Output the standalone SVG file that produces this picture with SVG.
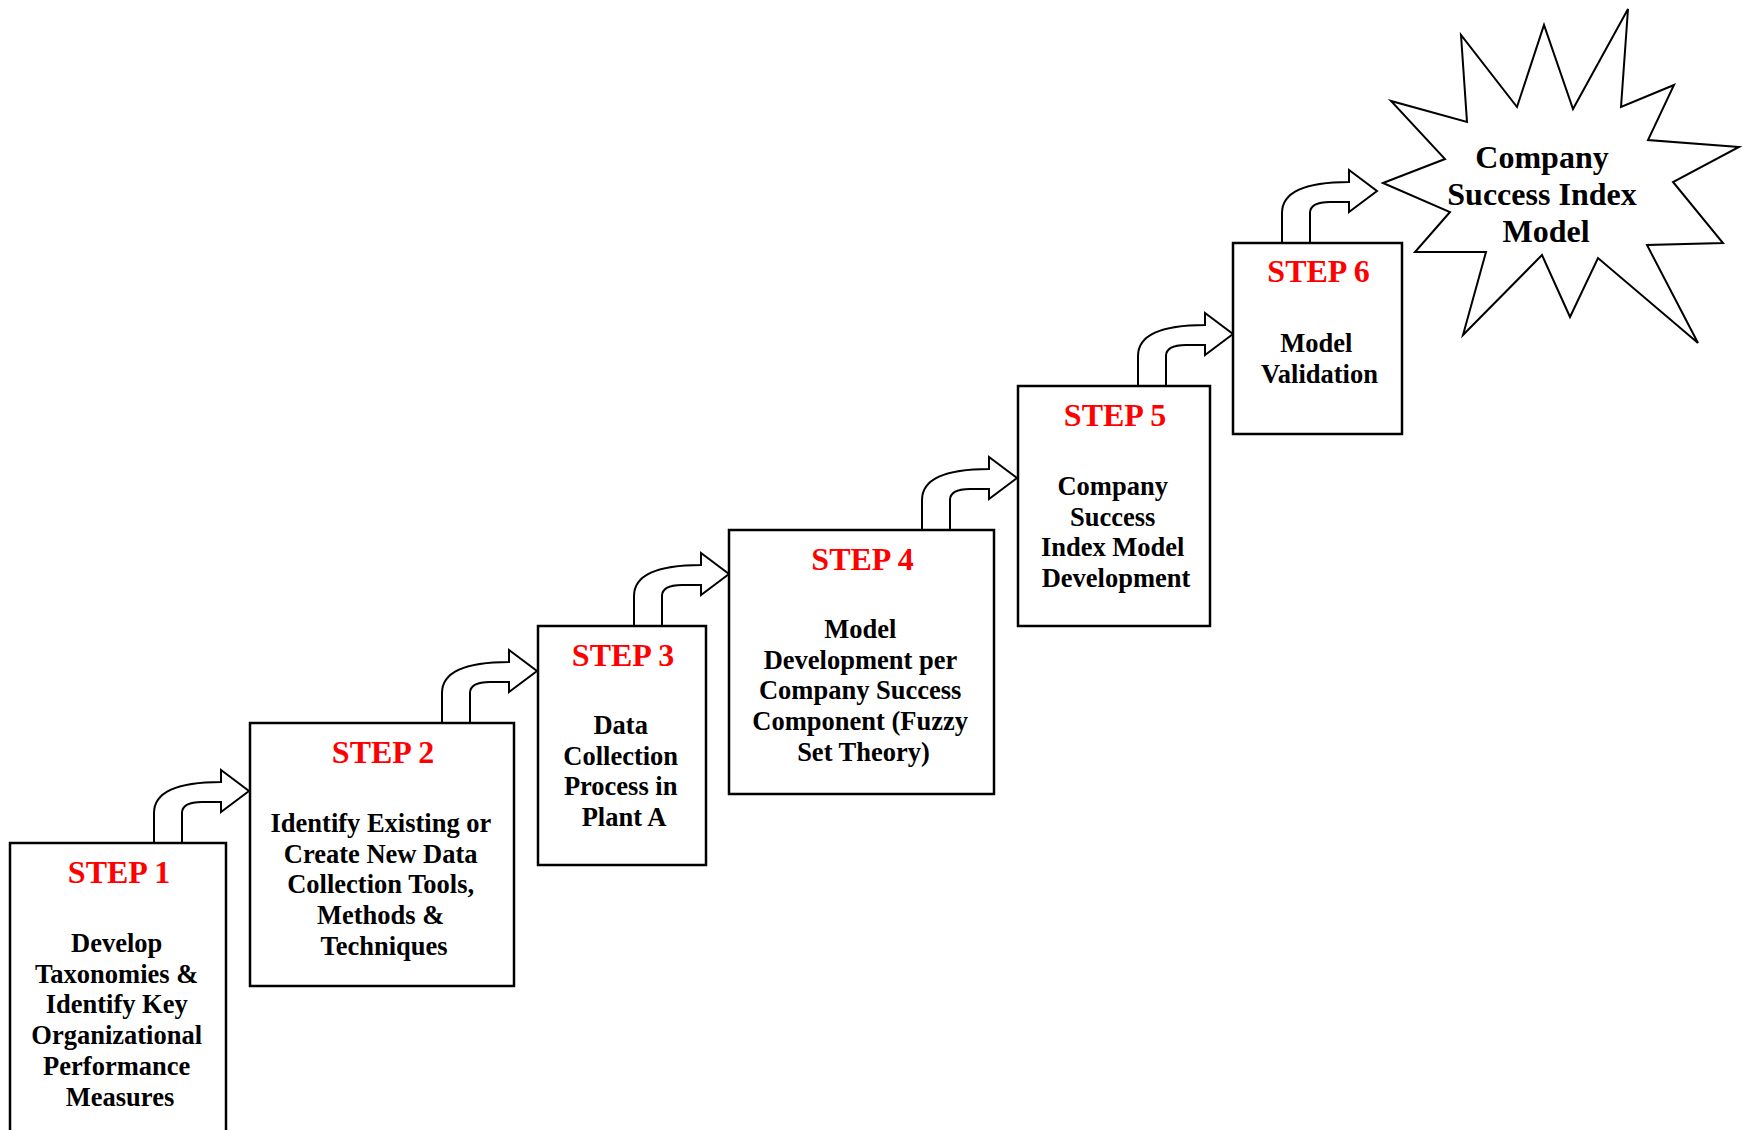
<svg xmlns="http://www.w3.org/2000/svg" xmlns:xlink="http://www.w3.org/1999/xlink" width="1746" height="1130" viewBox="0 0 1746 1130">
  <style>
    .box { fill: #ffffff; stroke: #000000; stroke-width: 2.5; }
    .arrow { fill: #ffffff; stroke: #000000; stroke-width: 2; stroke-linejoin: miter; }
    .star { fill: #ffffff; stroke: #000000; stroke-width: 2; stroke-linejoin: miter; }
    .step { font-family: "Liberation Serif", "Times New Roman", serif; font-weight: bold; font-size: 32px; fill: #ff0000; text-anchor: middle; }
    .body { font-family: "Liberation Serif", "Times New Roman", serif; font-weight: bold; font-size: 26.5px; fill: #000000; text-anchor: middle; }
    .goal { font-family: "Liberation Serif", "Times New Roman", serif; font-weight: bold; font-size: 32px; fill: #000000; text-anchor: middle; }
  </style>
  <defs>
    <!-- bent-up block arrow, origin at the outer shaft foot on the box top -->
    <path id="bent-arrow" class="arrow" d="M0,0 L0,-30 C0,-50 20,-61 67,-61 L67,-73 L95,-52 L67,-31 L67,-41 L48,-41 C35,-41 28,-38 28,-30 L28,0 Z"/>
  </defs>
  <rect width="1746" height="1130" fill="#ffffff"/>

  <g id="connectors">
    <use xlink:href="#bent-arrow" href="#bent-arrow" transform="translate(154,843)"/>
    <use xlink:href="#bent-arrow" href="#bent-arrow" transform="translate(442,723)"/>
    <use xlink:href="#bent-arrow" href="#bent-arrow" transform="translate(634,626)"/>
    <use xlink:href="#bent-arrow" href="#bent-arrow" transform="translate(922,530)"/>
    <use xlink:href="#bent-arrow" href="#bent-arrow" transform="translate(1138,386)"/>
    <use xlink:href="#bent-arrow" href="#bent-arrow" transform="translate(1282,243)"/>
  </g>

  <g id="step1">
    <rect class="box" x="10" y="843" width="216" height="320"/>
    <text class="step" x="119" y="883">STEP 1</text>
    <text class="body" x="120" y="952">
      <tspan x="120" y="952">Develop</tspan>
      <tspan x="120" y="982.7">Taxonomies &amp;</tspan>
      <tspan x="120" y="1013.4">Identify Key</tspan>
      <tspan x="120" y="1044.1">Organizational</tspan>
      <tspan x="120" y="1074.8">Performance</tspan>
      <tspan x="120" y="1105.5">Measures</tspan>
    </text>
  </g>

  <g id="step2">
    <rect class="box" x="250" y="723" width="264" height="263"/>
    <text class="step" x="383" y="763">STEP 2</text>
    <text class="body" x="384" y="832">
      <tspan x="384" y="832">Identify Existing or</tspan>
      <tspan x="384" y="862.7">Create New Data</tspan>
      <tspan x="384" y="893.4">Collection Tools,</tspan>
      <tspan x="384" y="924.1">Methods &amp;</tspan>
      <tspan x="384" y="954.8">Techniques</tspan>
    </text>
  </g>

  <g id="step3">
    <rect class="box" x="538" y="626" width="168" height="239"/>
    <text class="step" x="623" y="666">STEP 3</text>
    <text class="body" x="624" y="734">
      <tspan x="624" y="734">Data</tspan>
      <tspan x="624" y="764.7">Collection</tspan>
      <tspan x="624" y="795.4">Process in</tspan>
      <tspan x="624" y="826.1">Plant A</tspan>
    </text>
  </g>

  <g id="step4">
    <rect class="box" x="729" y="530" width="265" height="264"/>
    <text class="step" x="862.5" y="570">STEP 4</text>
    <text class="body" x="863.5" y="638">
      <tspan x="863.5" y="638">Model</tspan>
      <tspan x="863.5" y="668.7">Development per</tspan>
      <tspan x="863.5" y="699.4">Company Success</tspan>
      <tspan x="863.5" y="730.1">Component (Fuzzy</tspan>
      <tspan x="863.5" y="760.8">Set Theory)</tspan>
    </text>
  </g>

  <g id="step5">
    <rect class="box" x="1018" y="386" width="192" height="240"/>
    <text class="step" x="1115" y="426">STEP 5</text>
    <text class="body" x="1116" y="495">
      <tspan x="1116" y="495">Company</tspan>
      <tspan x="1116" y="525.7">Success</tspan>
      <tspan x="1116" y="556.4">Index Model</tspan>
      <tspan x="1116" y="587.1">Development</tspan>
    </text>
  </g>

  <g id="step6">
    <rect class="box" x="1233" y="243" width="169" height="191"/>
    <text class="step" x="1318.5" y="282">STEP 6</text>
    <text class="body" x="1319.5" y="352">
      <tspan x="1319.5" y="352">Model</tspan>
      <tspan x="1319.5" y="383">Validation</tspan>
    </text>
  </g>

  <g id="company-success-index-model">
    <polygon class="star" points="1383,183 1445,159 1391,101 1467,122 1461,35 1517,107 1544,25 1573,109 1628,9 1621,107 1674,85 1648,140 1739,147 1673,182 1723,243 1647,245 1698,343 1598,258 1570,317 1542,255 1463,335 1486,252 1415,252 1450,212"/>
    <text class="goal" x="1546" y="168">
      <tspan x="1546" y="168">Company</tspan>
      <tspan x="1546" y="205">Success Index</tspan>
      <tspan x="1546" y="242">Model</tspan>
    </text>
  </g>
</svg>
